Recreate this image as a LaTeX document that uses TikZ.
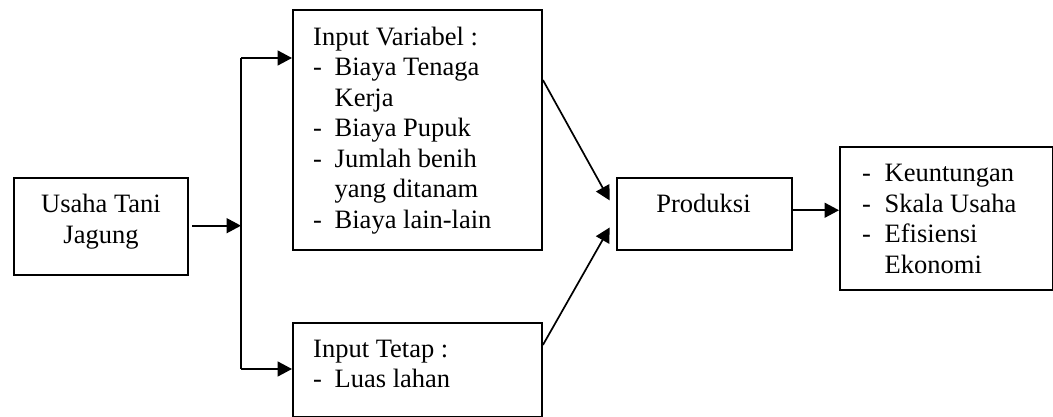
\documentclass[tikz,border=0pt]{standalone}
\usepackage{fontspec}
\setmainfont{Liberation Serif}
\usetikzlibrary{arrows.meta,calc}
\begin{document}
\begin{tikzpicture}[x=1pt,y=-1pt,
  box/.style={draw,line width=1.9pt,inner sep=0pt,anchor=north west},
  lbl/.style={inner sep=0pt,anchor=base west,font=\fontsize{26.5}{30.5}\selectfont},
  arr/.style={line width=1.7pt,-{Triangle[length=14.5pt,width=15pt]}},
  ln/.style={line width=1.7pt}]
\useasboundingbox (0,0) rectangle (1053,417);
% boxes
\node[box,minimum width=174pt,minimum height=97pt] (usaha) at (13.3,177) {};
\node[box,minimum width=249pt,minimum height=240pt] (var) at (292,9) {};
\node[box,minimum width=249pt,minimum height=94pt] (tetap) at (292,322) {};
\node[box,minimum width=175pt,minimum height=72pt] (prod) at (615.7,177) {};
\node[box,minimum width=213pt,minimum height=143pt] (out) at (839,146) {};
% texts
\node[lbl,anchor=base] (tusaha) at (101,213) {\begin{tabular}[t]{@{}c@{}}Usaha Tani\\Jagung\end{tabular}};
\node[lbl] (tvar) at (313,45.5) {\begin{tabular}[t]{@{}p{21.5pt}@{}l@{}}
\multicolumn{2}{@{}l@{}}{Input Variabel :}\\
- & Biaya Tenaga\\
 & Kerja\\
- & Biaya Pupuk\\
- & Jumlah benih\\
 & yang ditanam\\
- & Biaya lain-lain
\end{tabular}};
\node[lbl] (ttetap) at (313,357) {\begin{tabular}[t]{@{}p{21.5pt}@{}l@{}}
\multicolumn{2}{@{}l@{}}{Input Tetap :}\\
- & Luas lahan
\end{tabular}};
\node[lbl,anchor=base] (tprod) at (703.5,212) {Produksi};
\node[lbl] (tout) at (862,182) {\begin{tabular}[t]{@{}p{22.5pt}@{}l@{}}
- & Keuntungan\\
- & Skala Usaha\\
- & Efisiensi\\
 & Ekonomi
\end{tabular}};
% connectors
\coordinate (br) at (241,225.7);
\coordinate (bt) at (241,58);
\coordinate (bb) at (241,369);
\draw[arr,shorten <=3pt] (usaha.east |- br) -- (br);
\draw[ln] (bt) -- (bb);
\draw[arr] (bt) -- (bt -| var.west);
\draw[arr] (bb) -- (bb -| tetap.west);
\draw[arr] ($(var.north east)+(0,71)$) -- ($(prod.west)+(-6,-13.5)$);
\draw[arr] ($(tetap.north east)+(0,23)$) -- ($(prod.west)+(-6,13.5)$);
\coordinate (p1) at ($(prod.east)+(0,-3.7)$);
\draw[arr] (p1) -- (p1 -| out.west);
\end{tikzpicture}
\end{document}
